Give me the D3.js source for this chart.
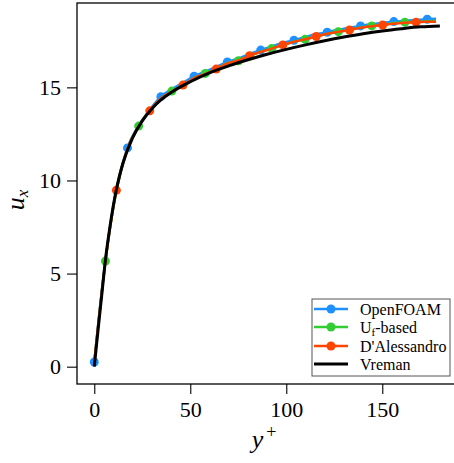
<!DOCTYPE html>
<html><head><meta charset="utf-8">
<script src="https://cdn.jsdelivr.net/npm/d3@7"></script>
<style>body{margin:0;background:#fff}svg{display:block}</style>
</head><body>
<script>
const yPlus = [0, 5.8, 11.5, 17.3, 23.1, 28.9, 34.7, 40.4, 46.2, 52.0, 57.8, 63.5, 69.3, 75.1, 80.9, 86.7, 92.4, 98.2, 104.0, 109.8, 115.6, 121.3, 127.1, 132.9, 138.7, 144.5, 150.2, 156.0, 161.8, 167.6, 173.4, 178.0];
const uOpenFOAM = [0.25, 5.7, 9.5, 11.75, 12.95, 13.8, 14.5, 14.9, 15.25, 15.6, 15.85, 16.1, 16.36, 16.55, 16.8, 17.0, 17.2, 17.38, 17.53, 17.7, 17.85, 17.96, 18.1, 18.2, 18.3, 18.4, 18.47, 18.53, 18.58, 18.62, 18.66, 18.68];
const uUfBased = [0.2, 5.67, 9.45, 11.7, 12.92, 13.72, 14.4, 14.8, 15.12, 15.5, 15.75, 15.98, 16.3, 16.43, 16.68, 16.92, 17.08, 17.28, 17.45, 17.58, 17.72, 17.88, 17.99, 18.08, 18.22, 18.3, 18.35, 18.45, 18.5, 18.5, 18.55, 18.56];
const uDAlessandro = [0.2, 5.65, 9.47, 11.7, 12.9, 13.74, 14.4, 14.78, 15.12, 15.5, 15.72, 15.98, 16.28, 16.45, 16.7, 16.9, 17.08, 17.28, 17.45, 17.58, 17.73, 17.88, 17.98, 18.08, 18.2, 18.28, 18.35, 18.42, 18.47, 18.5, 18.52, 18.52];
const yPlusVreman = [0, 2, 4, 6, 8, 10, 12, 15, 20, 25, 30, 35, 40, 50, 60, 70, 80, 90, 100, 110, 120, 130, 140, 150, 160, 170, 180];
const uVreman = [0, 2.0, 3.95, 5.9, 7.4, 8.7, 9.75, 10.95, 12.3, 13.2, 13.85, 14.35, 14.72, 15.3, 15.78, 16.15, 16.48, 16.78, 17.04, 17.28, 17.5, 17.7, 17.88, 18.03, 18.15, 18.25, 18.3];
const seriesNames = ["OpenFOAM", "Uf-based", "D'Alessandro", "Vreman"];
const seriesColors = ["#1E90FF", "#32CD32", "#FF4500", "#000000"];
const markerOffset = [0, 1, 2];
const markEvery = 3;
const xTicks = [0, 50, 100, 150];
const yTicks = [0, 5, 10, 15];

const W = 454, H = 463;
const svg = d3.select("body").append("svg").attr("width", W).attr("height", H);
const x = d3.scaleLinear().domain([-9, 189]).range([77, 77 + 198 * 1.92]);
const y = d3.scaleLinear().domain([-0.93, 19.53]).range([384, 3]);
const font = "'Liberation Serif', 'Times New Roman', serif";

// frame
svg.append("rect").attr("x", 77).attr("y", 3).attr("width", x.range()[1] - 77).attr("height", 381)
  .attr("fill", "none").attr("stroke", "#000").attr("stroke-width", 1.3);

const xAxis = svg.append("g").attr("transform", "translate(0,384)")
  .call(d3.axisBottom(x).tickValues(xTicks).tickSize(10).tickPadding(6).tickFormat(d3.format("d")));
const yAxis = svg.append("g").attr("transform", "translate(77,0)")
  .call(d3.axisLeft(y).tickValues(yTicks).tickSize(10).tickPadding(6).tickFormat(d3.format("d")));
[xAxis, yAxis].forEach(a => {
  a.attr("font-family", font);
  a.select(".domain").remove();
  a.selectAll(".tick line").attr("stroke", "#000").attr("stroke-width", 1.1);
  a.selectAll(".tick text").attr("font-family", font).attr("font-size", 22).attr("fill", "#000");
});
xAxis.selectAll(".tick text").attr("dy", "0.75em");

const seriesU = [uOpenFOAM, uUfBased, uDAlessandro];
const line = d3.line().x(d => x(d[0])).y(d => y(d[1])).curve(d3.curveMonotoneX);
const gData = svg.append("g");
seriesU.forEach((u, s) => {
  const pts = yPlus.map((v, i) => [v, u[i]]);
  gData.append("path").datum(pts).attr("d", line).attr("fill", "none")
    .attr("stroke", seriesColors[s]).attr("stroke-width", 2.5);
  gData.selectAll(null).data(pts.filter((p, i) => i % markEvery === markerOffset[s] && i < yPlus.length - 1))
    .enter().append("circle").attr("cx", d => x(d[0])).attr("cy", d => y(d[1])).attr("r", 4.5)
    .attr("fill", seriesColors[s]);
});
gData.append("path").datum(yPlusVreman.map((v, i) => [v, uVreman[i]])).attr("d", line)
  .attr("fill", "none").attr("stroke", "#000").attr("stroke-width", 3);

// axis labels
svg.append("text").attr("transform", "translate(24,200) rotate(-90)").attr("text-anchor", "middle")
  .attr("font-family", font).attr("font-size", 26).attr("font-style", "italic")
  .html("u<tspan font-size='17' dy='4'>x</tspan>");
svg.append("text").attr("x", 264).attr("y", 448).attr("text-anchor", "middle")
  .attr("font-family", font).attr("font-size", 26).attr("font-style", "italic")
  .html("y<tspan font-size='18' font-style='normal' dy='-10' dx='3'>+</tspan>");

// legend
const lg = svg.append("g");
lg.append("rect").attr("x", 312).attr("y", 299).attr("width", 138).attr("height", 77)
  .attr("fill", "#fff").attr("stroke", "#555").attr("stroke-width", 1);
const rowY = [309, 327, 346, 364];
seriesNames.forEach((n, i) => {
  lg.append("line").attr("x1", 314).attr("x2", 348).attr("y1", rowY[i]).attr("y2", rowY[i])
    .attr("stroke", seriesColors[i]).attr("stroke-width", i === 3 ? 3 : 2.5);
  if (i < 3) lg.append("circle").attr("cx", 331).attr("cy", rowY[i]).attr("r", 4.5).attr("fill", seriesColors[i]);
  const t = lg.append("text").attr("x", 360).attr("y", rowY[i] + 5.5).attr("font-family", font)
    .attr("font-size", 16).attr("fill", "#000");
  if (n === "Uf-based") t.html("U<tspan font-size='11' dy='3'>f</tspan><tspan dy='-3'>-based</tspan>");
  else t.text(n);
});
</script>
</body></html>
